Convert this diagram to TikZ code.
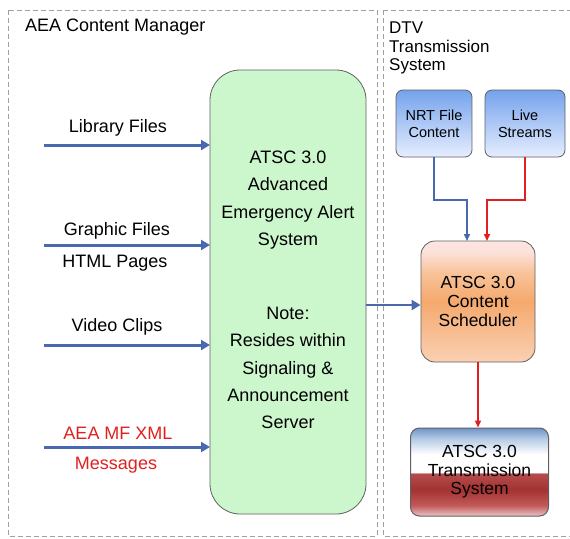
\documentclass[tikz,border=0pt]{standalone}
\usepackage{fontspec}
\setmainfont{Liberation Sans}
\usetikzlibrary{arrows.meta,positioning}
\definecolor{framegray}{HTML}{A0A0A0}
\definecolor{flowblue}{HTML}{4A68B0}
\definecolor{flowred}{HTML}{E02020}
\definecolor{aeagreen}{HTML}{CCF6CC}
\definecolor{boxline}{HTML}{606060}
\definecolor{srcTop}{HTML}{74A2EC}
\definecolor{srcBot}{HTML}{E6EEFF}
\definecolor{schTop}{HTML}{FBE0D8}
\definecolor{schMid}{HTML}{F5A96E}
\definecolor{schBot}{HTML}{FAD0B4}
\definecolor{txA}{HTML}{6F93C8}
\definecolor{txB}{HTML}{B4CAE4}
\definecolor{txC}{HTML}{B44C4C}
\definecolor{txD}{HTML}{A33232}
\definecolor{txE}{HTML}{C25A5A}
\definecolor{txF}{HTML}{ECC6C6}
\pgfdeclareverticalshading{txshade}{100bp}{color(0bp)=(txF); color(25bp)=(txF); color(31bp)=(txE); color(40bp)=(txD); color(49bp)=(txC); color(50bp)=(white); color(60bp)=(white); color(69bp)=(txB); color(75bp)=(txA); color(100bp)=(txA)}
\pgfdeclareverticalshading{schshade}{100bp}{color(0bp)=(schBot); color(25bp)=(schBot); color(50bp)=(schMid); color(62bp)=(schMid!70!white); color(70bp)=(schTop); color(75bp)=(schTop!80!white); color(100bp)=(schTop!80!white)}
\tikzset{
  frame/.style={draw=framegray, line width=1pt, dash pattern=on 5pt off 3pt},
  lbl/.style={font=\fontsize{18}{20}\selectfont, inner sep=0pt},
  boxtext/.style={font=\fontsize{18}{20}\selectfont, align=center, inner sep=0pt},
  feed/.style={draw=flowblue, line width=3pt, -{Triangle[length=9pt,width=10pt]}},
  thinblue/.style={draw=flowblue, line width=1.6pt, -{Triangle[length=7pt,width=6pt]}},
  thinred/.style={draw=flowred, line width=1.6pt, -{Triangle[length=7pt,width=6pt]}},
  srcbox/.style={draw=boxline, line width=0.8pt, rounded corners=7pt, top color=srcTop, bottom color=srcBot, minimum width=76pt, minimum height=67pt, align=center, font=\fontsize{14.5}{17}\selectfont, inner sep=0pt}
}
\begin{document}
\begin{tikzpicture}[x=1pt,y=-1pt]
\useasboundingbox (0,0) rectangle (570,538);
% the two dashed groups
\draw[frame] (8,10) rectangle (377,536);
\draw[frame] (383,10) -- (575,10);
\draw[frame] (383,10) -- (383,536) -- (575,536);
\node[lbl, anchor=west] (cmtitle) at (25,27) {AEA Content Manager};
\node[lbl, anchor=north west, align=left, font=\fontsize{17}{18.5}\selectfont] (dtvtitle) at (389,22) {DTV\\Transmission\\System};

% central AEA server
\draw[draw=boxline, line width=0.8pt, fill=aeagreen, rounded corners=30pt] (210,70) rectangle (366,514);
\coordinate (aeaW1) at (210,145);
\coordinate (aeaW2) at (210,245);
\coordinate (aeaW3) at (210,345);
\coordinate (aeaW4) at (210,447);
\coordinate (aeaE) at (366,305);
\node[boxtext, align=center] (aeaname) at (288,200) {ATSC 3.0\\[7.5pt]Advanced\\[7.5pt]Emergency Alert\\[7.5pt]System};
\node[boxtext, align=center] (aeanote) at (288,368) {Note:\\[7.3pt]Resides within\\[7.3pt]Signaling \&\\[7.3pt]Announcement\\[7.3pt]Server};

% inputs on the left
\coordinate (in1) at (44,145);
\coordinate (in2) at (44,245);
\coordinate (in3) at (44,345);
\coordinate (in4) at (44,447);
\draw[feed] (in1) -- (aeaW1);
\draw[feed] (in2) -- (aeaW2);
\draw[feed] (in3) -- (aeaW3);
\draw[feed] (in4) -- (aeaW4);
\node[lbl] (lib) at (118,128) {Library Files};
\node[lbl] (gfx) at (117,231) {Graphic Files};
\node[lbl] (html) at (115,263) {HTML Pages};
\node[lbl] (vid) at (117,327) {Video Clips};
\node[lbl, text=flowred] (mfxml) at (118,433) {AEA MF XML};
\node[lbl, text=flowred] (msgs) at (116,465) {Messages};

% transmission side
\node[srcbox] (nrt) at (434,123.5) {NRT File\\Content};
\node[srcbox, minimum width=80pt] (live) at (525,123.5) {Live\\Streams};
\node[draw=boxline, line width=0.8pt, rounded corners=14pt, shading=schshade, minimum width=114pt, minimum height=121pt, boxtext, font=\fontsize{17.5}{19}\selectfont] (sched) at (478,301.5) {ATSC 3.0\\Content\\Scheduler};
\node[draw=boxline, line width=1pt, rounded corners=9pt, shading=txshade, minimum width=138pt, minimum height=88pt, boxtext, font=\fontsize{17.5}{18.5}\selectfont] (tx) at (479.5,472) {ATSC 3.0\\Transmission\\System};

\draw[feed, line width=2.6pt] (aeaE) -- (sched.west |- aeaE);
\draw[thinblue] (nrt.south) |- (467,200) -- (467,241);
\draw[thinred] (live.south) |- (487,200) -- (487,241);
\draw[thinred] (sched.south) -- (tx.north -| sched.south);
\end{tikzpicture}
\end{document}
